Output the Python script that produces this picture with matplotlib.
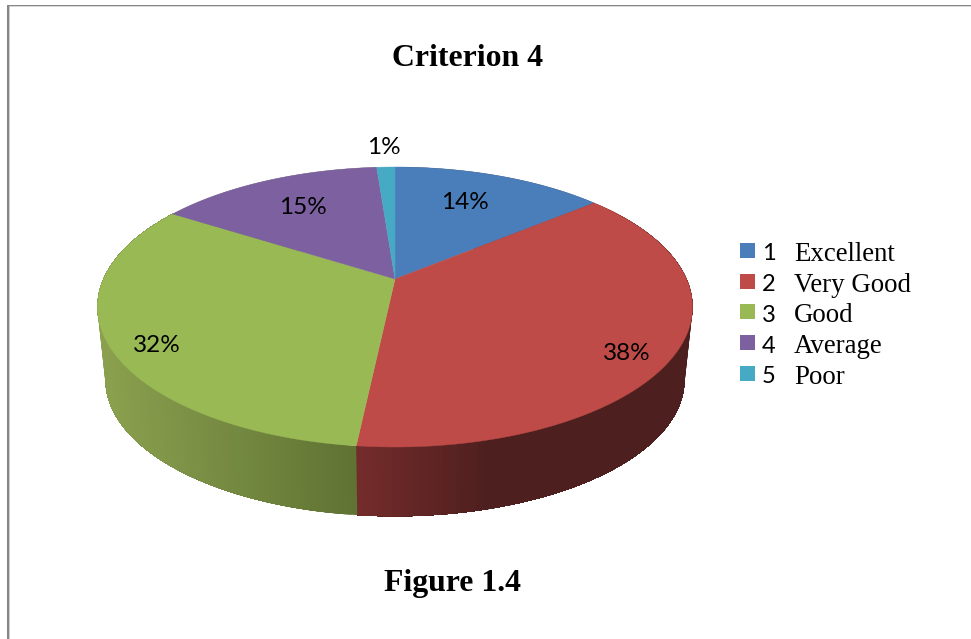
import numpy as np
import matplotlib
matplotlib.use("agg")
import matplotlib.pyplot as plt
from matplotlib.colors import to_rgb
from matplotlib.patches import Polygon, Rectangle

# Chart data
categories = ['1', '2', '3', '4', '5']
names = ['Excellent', 'Very Good', 'Good', 'Average', 'Poor']
values = [14.0, 37.7, 32.3, 14.8, 1.2]
colors = ['#4a7ebb', '#be4b48', '#98b954', '#7d60a0', '#46aac5']
label_pos = [(465, 202.5), (627, 353.5), (157, 345.5), (303, 207.5), (384, 147.5)]

# side wall shading: (x, colour) stops, only the front slices can be seen
green_stops = ([105, 357], ['#8aa04e', '#5f7233'])
red_stops = ([357, 490, 700], ['#742c2b', '#4d1f1e', '#4d1f1e'])
wall_stops = {1: red_stops, 2: green_stops}

# pie projection, a tilted disc seen in perspective
cx, cy = 395, 279
bx, by, k = 291.5, 134.4, 0.2
wall_scale, wall_cy = 0.973, 352.8


def project(theta, scale=1.0, y0=cy):
    # theta runs clockwise from the top of the pie
    u, v = np.sin(theta), np.cos(theta)
    d = 1 + k * v
    return cx + scale * bx * u / d, y0 - scale * by * v / d


def shade(x, stops):
    xs, cols = stops
    rgb = np.array([to_rgb(c) for c in cols])
    return [np.interp(x, xs, rgb[:, i]) for i in range(3)]


fig = plt.figure(figsize=(9.71, 6.39), dpi=100)
ax = fig.add_axes([0, 0, 1, 1])
ax.set_xlim(0, 971)
ax.set_ylim(639, 0)
ax.axis('off')

# page frame
ax.add_patch(Rectangle((7, 5), 2.4, 634, fc='#868686', ec='none', snap=False))
ax.add_patch(Rectangle((7, 5), 964, 1.3, fc='#868686', ec='none', snap=False))

edges = np.cumsum([0] + values) / sum(values) * 2 * np.pi

# right and left ends of the wall belong to slices 1 and 2/3 only, fill the rest
for i, c in [(0, '#4d1f1e'), (3, '#8aa04e')]:
    ts = np.linspace(edges[i], edges[i + 1], 80)
    xt, yt = project(ts)
    xb, yb = project(ts, wall_scale, wall_cy)
    ax.add_patch(Polygon(np.r_[np.c_[xt, yt], np.c_[xb, yb][::-1]],
                         fc=c, ec='none'))

# side wall, each strip runs to the end of its slice so no seams show
for i in wall_stops:
    ts = np.linspace(edges[i], edges[i + 1], 120)
    for j in range(len(ts) - 1):
        part = ts[j:]
        xt, yt = project(part)
        xb, yb = project(part, wall_scale, wall_cy)
        c = shade((xt[0] + xt[1]) / 2, wall_stops[i])
        ax.add_patch(Polygon(np.r_[np.c_[xt, yt], np.c_[xb, yb][::-1]],
                             fc=c, ec='none'))

# top face
for i, c in enumerate(colors):
    ts = np.linspace(edges[i], edges[i + 1], 200)
    xt, yt = project(ts)
    ax.add_patch(Polygon(np.r_[[(cx, cy)], np.c_[xt, yt]],
                         fc=c, ec=c, lw=0.3))

for v, (x, y) in zip(values, label_pos):
    ax.text(x, y, '%.0f%%' % v, family='Lato', fontsize=17.5,
            ha='center', va='center', color='black')

# legend
for i, (cat, name, c) in enumerate(zip(categories, names, colors)):
    y = 250.5 + i * 30.7
    ax.add_patch(Rectangle((740, y - 7.5), 15, 15, fc=c, ec='none'))
    ax.text(762, y + 1.5, cat, family='Lato', fontsize=17,
            ha='left', va='center_baseline', color='black')
    ax.text(794, y + 1, name, family='Liberation Serif', fontsize=19.4,
            ha='left', va='center_baseline', color='black')

ax.text(467.5, 59, 'Criterion 4', family='Liberation Serif', weight='bold',
        fontsize=22.9, ha='center', va='center', color='black')
ax.text(453, 584, 'Figure 1.4', family='Liberation Serif', weight='bold',
        fontsize=22.9, ha='center', va='center', color='black')

fig.savefig('out.png', dpi=100)
